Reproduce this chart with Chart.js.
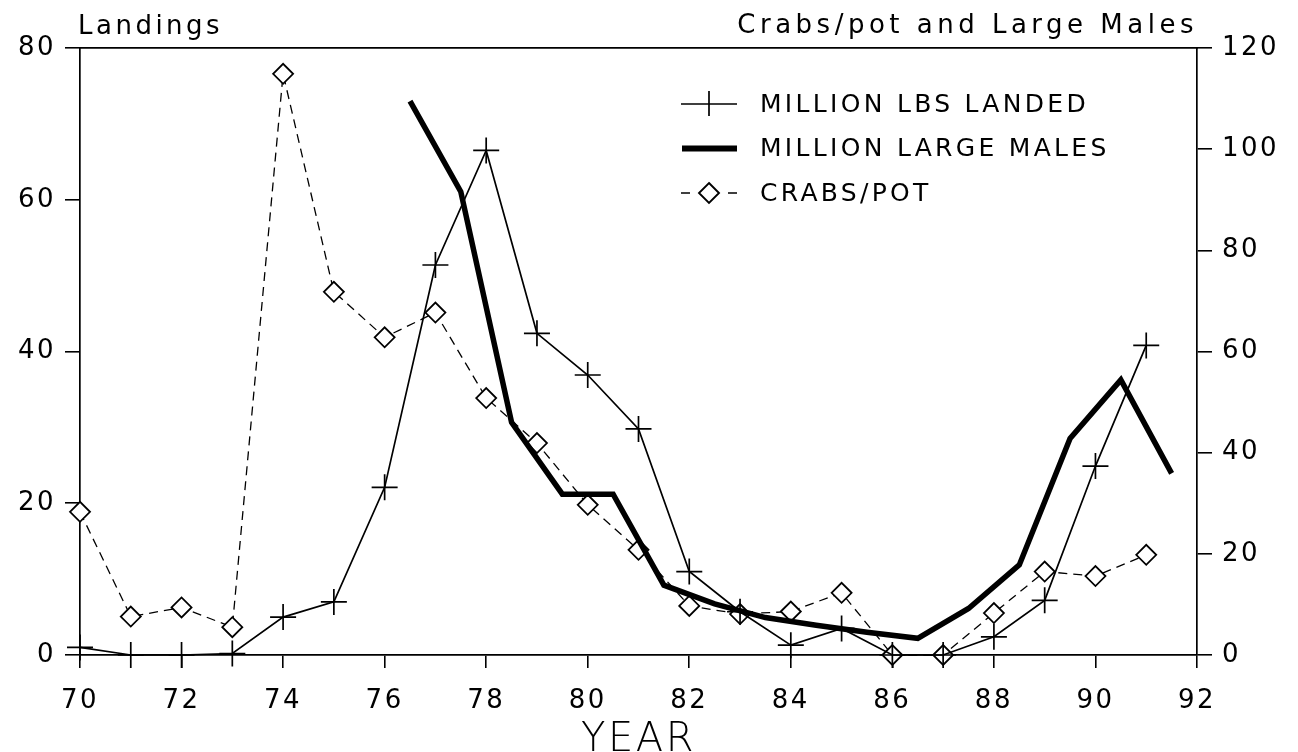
<!DOCTYPE html>
<html lang="en">
<head>
    <meta charset="UTF-8">
    <title>Landings, Crabs/pot and Large Males</title>
    <script src="https://cdn.jsdelivr.net/npm/chart.js"></script>
    <style>
        body {
            margin: 0;
            background-color: #ffffff;
        }
        #chartContainer {
            width: 1298px;
            height: 752px;
        }
    </style>
</head>
<body>

    <div id="chartContainer">
        <canvas id="crabChart"></canvas>
    </div>

    <script>
        // Years for landings and crabs/pot
        const years = [70, 71, 72, 73, 74, 75, 76, 77, 78, 79, 80, 81, 82, 83, 84, 85, 86, 87, 88, 89, 90, 91];
        // Million lbs landed (left axis)
        const lbsLanded = [1, 0, 0, 0.2, 5, 7, 22.1, 51.4, 66.5, 42.4, 36.9, 29.8, 11, 5.7, 1.3, 3.5, 0, 0, 2.4, 7.2, 24.9, 40.8];
        // Crabs per pot (right axis)
        const crabsPerPot = [28.3, 7.6, 9.4, 5.5, 114.9, 71.8, 62.8, 67.7, 50.8, 41.9, 29.7, 20.8, 9.7, 8.1, 8.6, 12.3, 0, 0, 8.3, 16.5, 15.6, 19.8];
        // Million large males (right axis), plotted at mid-year
        const maleYears = [76.5, 77.5, 78.5, 79.5, 80.5, 81.5, 82.5, 83.5, 84.5, 85.5, 86.5, 87.5, 88.5, 89.5, 90.5, 91.5];
        const largeMales = [109.5, 91.6, 46, 31.8, 31.8, 13.8, 10.1, 7.4, 5.9, 4.5, 3.3, 9.2, 17.8, 42.8, 54.4, 35.9];

        const xTicks = [70, 72, 74, 76, 78, 80, 82, 84, 86, 88, 90, 92];
        const leftTicks = [0, 20, 40, 60, 80];
        const rightTicks = [0, 20, 40, 60, 80, 100, 120];

        const seriesNames = ['MILLION LBS LANDED', 'MILLION LARGE MALES', 'CRABS/POT'];
        const leftTitle = 'Landings';
        const rightTitle = 'Crabs/pot and Large Males';

        const FONT = '"DejaVu Sans", sans-serif';

        function pairs(xs, ys) {
            return xs.map((x, i) => ({ x: x, y: ys[i] }));
        }

        // Corner titles and the boxed-in legend
        const annotate = {
            id: 'annotate',
            beforeDraw(chart) {
                chart.ctx.letterSpacing = '2.5px';
            },
            afterDraw(chart) {
                const ctx = chart.ctx;
                ctx.save();
                ctx.fillStyle = '#000';
                ctx.strokeStyle = '#000';
                ctx.textBaseline = 'alphabetic';
                ctx.font = '26px ' + FONT;

                ctx.letterSpacing = '3.5px';
                ctx.textAlign = 'left';
                ctx.fillText(leftTitle, 78, 34);

                ctx.letterSpacing = '4.5px';
                const w = ctx.measureText(rightTitle).width;
                ctx.fillText(rightTitle, 1198 - w, 33);

                // legend rows
                ctx.font = '25px ' + FONT;
                ctx.letterSpacing = '3.3px';
                ctx.textBaseline = 'middle';
                const rowY = [104, 148.5, 193];
                const x0 = 681, x1 = 737, xm = 709;

                // row 1: thin line with cross
                ctx.lineWidth = 1.7;
                ctx.beginPath();
                ctx.moveTo(x0, rowY[0]); ctx.lineTo(x1, rowY[0]);
                ctx.moveTo(xm, rowY[0] - 13); ctx.lineTo(xm, rowY[0] + 12);
                ctx.stroke();

                // row 2: heavy line
                ctx.lineWidth = 6;
                ctx.beginPath();
                ctx.moveTo(x0 + 1, rowY[1]); ctx.lineTo(x1, rowY[1]);
                ctx.stroke();

                // row 3: dashed with diamond
                ctx.lineWidth = 1.4;
                ctx.beginPath();
                ctx.moveTo(x0, rowY[2]); ctx.lineTo(x0 + 9, rowY[2]);
                ctx.moveTo(x1 - 9, rowY[2]); ctx.lineTo(x1, rowY[2]);
                ctx.stroke();
                ctx.lineWidth = 1.9;
                ctx.beginPath();
                ctx.moveTo(xm, rowY[2] - 10);
                ctx.lineTo(xm + 10, rowY[2]);
                ctx.lineTo(xm, rowY[2] + 10);
                ctx.lineTo(xm - 10, rowY[2]);
                ctx.closePath();
                ctx.fillStyle = '#fff';
                ctx.fill();
                ctx.stroke();

                ctx.fillStyle = '#000';
                seriesNames.forEach((name, i) => {
                    ctx.fillText(name, 760, rowY[i] + 1);
                });
                ctx.restore();
            }
        };

        const tickFont = { family: FONT, size: 26 };

        const ctx = document.getElementById('crabChart').getContext('2d');
        const crabChart = new Chart(ctx, {
            type: 'line',
            data: {
                datasets: [{
                    label: seriesNames[0],
                    data: pairs(years, lbsLanded),
                    yAxisID: 'y',
                    borderColor: '#000',
                    borderWidth: 1.7,
                    pointStyle: 'cross',
                    pointRadius: 13,
                    pointBorderColor: '#000',
                    pointBorderWidth: 1.7,
                    clip: false,
                    tension: 0
                }, {
                    label: seriesNames[1],
                    data: pairs(maleYears, largeMales),
                    yAxisID: 'y1',
                    borderColor: '#000',
                    borderWidth: 5.5,
                    pointRadius: 0,
                    clip: false,
                    tension: 0
                }, {
                    label: seriesNames[2],
                    data: pairs(years, crabsPerPot),
                    yAxisID: 'y1',
                    borderColor: '#000',
                    borderWidth: 1.3,
                    borderDash: [9, 6],
                    pointStyle: 'rectRot',
                    pointRadius: 10,
                    pointBackgroundColor: '#fff',
                    pointBorderColor: '#000',
                    pointBorderWidth: 1.8,
                    clip: false,
                    tension: 0
                }]
            },
            options: {
                responsive: true,
                maintainAspectRatio: false,
                animation: false,
                layout: { padding: { top: 48, left: 0, right: 0, bottom: 0 } },
                plugins: {
                    legend: { display: false },
                    tooltip: { enabled: false }
                },
                scales: {
                    x: {
                        type: 'linear',
                        min: 70,
                        max: 92,
                        afterBuildTicks: (scale) => { scale.ticks = xTicks.map(v => ({ value: v })); },
                        afterFit: (scale) => { scale.height = 97; },
                        grid: { drawOnChartArea: false, tickLength: 13, color: '#000', lineWidth: 1.6 },
                        border: { display: true, color: '#000', width: 1.7 },
                        ticks: { color: '#000', font: tickFont, padding: 18, maxRotation: 0 },
                        title: {
                            display: true,
                            text: 'YEAR',
                            color: '#000',
                            font: { family: FONT, size: 40, weight: '200', lineHeight: 0.55 },
                            padding: { top: 0, bottom: 0 }
                        }
                    },
                    xTop: {
                        type: 'linear',
                        position: 'top',
                        min: 70,
                        max: 92,
                        afterFit: (scale) => { scale.height = 0; },
                        grid: { display: false },
                        ticks: { display: false },
                        border: { display: true, color: '#000', width: 1.7 }
                    },
                    y: {
                        position: 'left',
                        min: 0,
                        max: 80,
                        afterBuildTicks: (scale) => { scale.ticks = leftTicks.map(v => ({ value: v })); },
                        afterFit: (scale) => { scale.width = 80; },
                        grid: { drawOnChartArea: false, tickLength: 15, color: '#000', lineWidth: 1.6 },
                        border: { display: true, color: '#000', width: 1.7 },
                        ticks: { color: '#000', font: tickFont, padding: 9 }
                    },
                    y1: {
                        position: 'right',
                        min: 0,
                        max: 120,
                        afterBuildTicks: (scale) => { scale.ticks = rightTicks.map(v => ({ value: v })); },
                        afterFit: (scale) => { scale.width = 101; },
                        grid: { drawOnChartArea: false, tickLength: 15, color: '#000', lineWidth: 1.6 },
                        border: { display: true, color: '#000', width: 1.7 },
                        ticks: { color: '#000', font: tickFont, padding: 10 }
                    }
                }
            },
            plugins: [annotate]
        });
    </script>

</body>
</html>
